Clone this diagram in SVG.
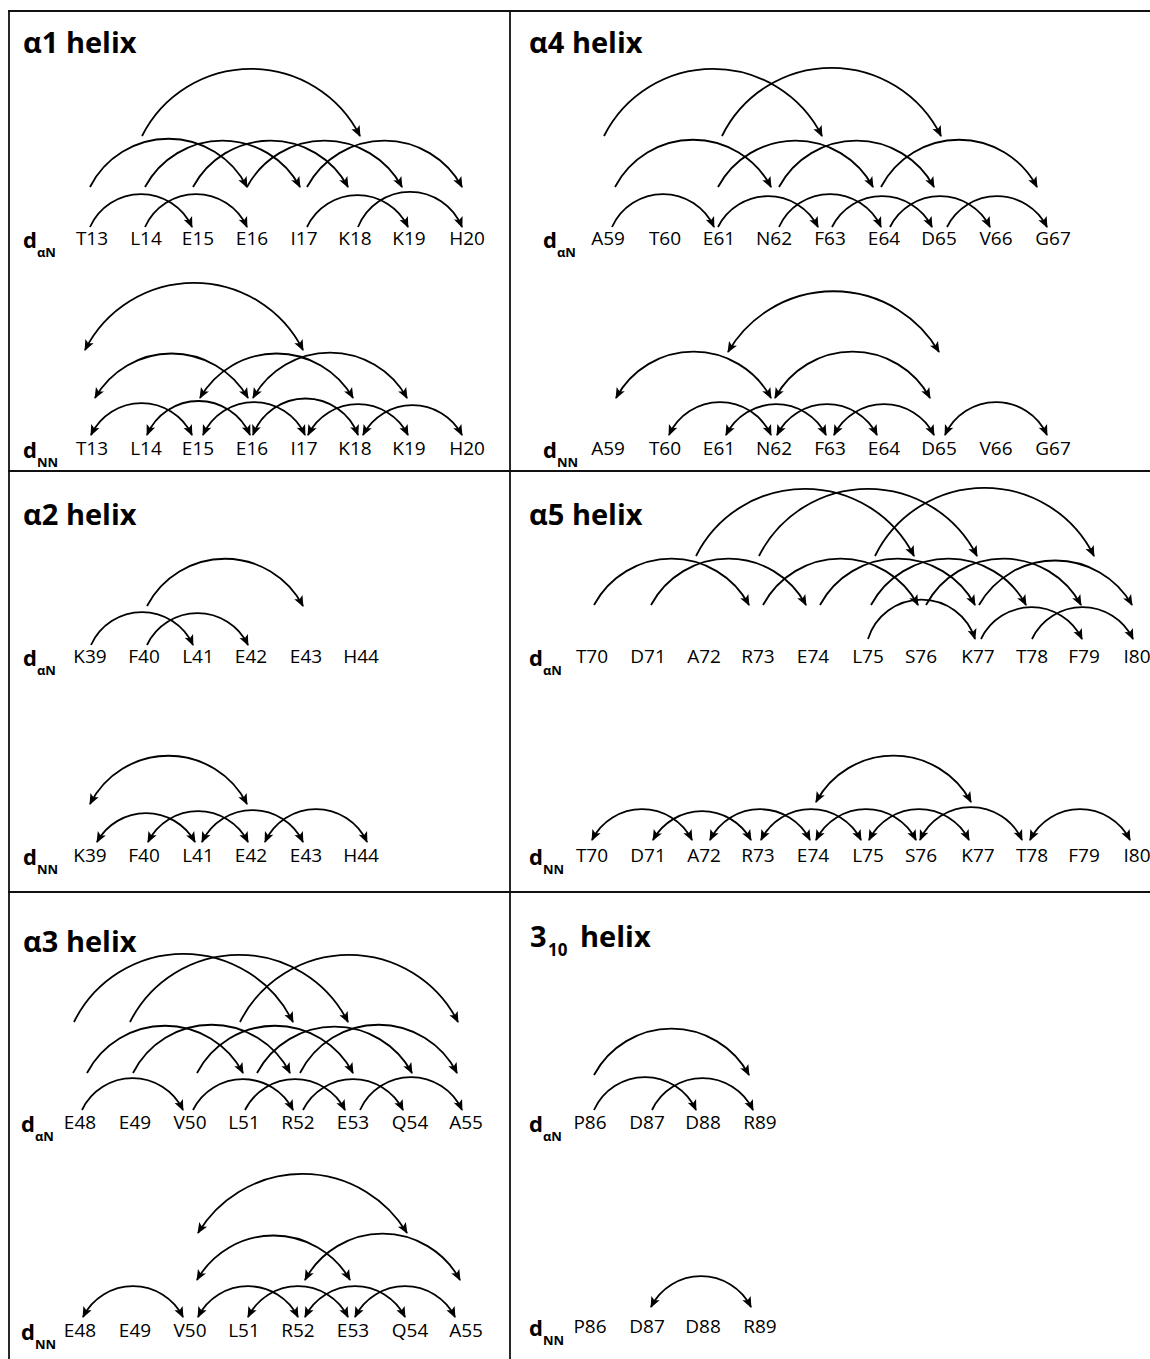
<svg xmlns="http://www.w3.org/2000/svg" width="1150" height="1359" viewBox="0 0 1150 1359">
<style>
.frame{stroke:#111;stroke-width:1.8;fill:none}
.title{font-family:"Open Sans","Liberation Sans",Arial,sans-serif;font-weight:bold;font-size:29px;fill:#000}
.tsub{font-size:17px}
.d{font-family:"Open Sans","Liberation Sans",Arial,sans-serif;font-weight:bold;font-size:22px;fill:#000}
.sub{font-size:13px}
.res{font-family:"Open Sans","Liberation Sans",Arial,sans-serif;font-size:19px;fill:#000;text-anchor:middle}
.an{fill:none;stroke:#000;stroke-width:1.8;marker-end:url(#ah)}
.nn{fill:none;stroke:#000;stroke-width:1.8;marker-start:url(#ah);marker-end:url(#ah)}
</style>
<defs>
<marker id="ah" viewBox="-12 -6 13 12" refX="0" refY="0" markerWidth="13" markerHeight="12" markerUnits="userSpaceOnUse" orient="auto-start-reverse">
<path d="M1,0 L-10,-4.6 L-7.5,0 L-10,4.6 Z" fill="#000"/>
</marker>
</defs>
<rect width="1150" height="1359" fill="#fff"/>
<g id="frame">
<line class="frame" x1="8" y1="11" x2="1150" y2="11"/>
<line class="frame" x1="9" y1="11" x2="9" y2="1359"/>
<line class="frame" x1="510" y1="11" x2="510" y2="1359"/>
<line class="frame" x1="8" y1="471" x2="1150" y2="471"/>
<line class="frame" x1="8" y1="892" x2="1150" y2="892"/>
</g>
<g id="titles">
<text class="title" x="23" y="53">α1 helix</text>
<text class="title" x="529" y="53">α4 helix</text>
<text class="title" x="23" y="525">α2 helix</text>
<text class="title" x="529" y="525">α5 helix</text>
<text class="title" x="23" y="952">α3 helix</text>
<text class="title" x="530" y="947">3<tspan class="tsub" x="548" dy="9">10</tspan><tspan x="580" dy="-9">helix</tspan></text>
</g>
<g id="row-labels">
<text class="d" x="23" y="248">d<tspan class="sub" dy="9">αN</tspan></text>
<text class="d" x="23" y="458">d<tspan class="sub" dy="9">NN</tspan></text>
<text class="d" x="543" y="248">d<tspan class="sub" dy="9">αN</tspan></text>
<text class="d" x="543" y="458">d<tspan class="sub" dy="9">NN</tspan></text>
<text class="d" x="23" y="666">d<tspan class="sub" dy="9">αN</tspan></text>
<text class="d" x="23" y="865">d<tspan class="sub" dy="9">NN</tspan></text>
<text class="d" x="529" y="666">d<tspan class="sub" dy="9">αN</tspan></text>
<text class="d" x="529" y="865">d<tspan class="sub" dy="9">NN</tspan></text>
<text class="d" x="21" y="1132">d<tspan class="sub" dy="9">αN</tspan></text>
<text class="d" x="21" y="1340">d<tspan class="sub" dy="9">NN</tspan></text>
<text class="d" x="529" y="1132">d<tspan class="sub" dy="9">αN</tspan></text>
<text class="d" x="529" y="1336">d<tspan class="sub" dy="9">NN</tspan></text>
</g>
<g id="nodes">
<g id="a1-an-T13"><text class="res" x="92" y="245">T13</text></g>
<g id="a1-an-L14"><text class="res" x="146" y="245">L14</text></g>
<g id="a1-an-E15"><text class="res" x="198" y="245">E15</text></g>
<g id="a1-an-E16"><text class="res" x="252" y="245">E16</text></g>
<g id="a1-an-I17"><text class="res" x="304" y="245">I17</text></g>
<g id="a1-an-K18"><text class="res" x="355" y="245">K18</text></g>
<g id="a1-an-K19"><text class="res" x="409" y="245">K19</text></g>
<g id="a1-an-H20"><text class="res" x="467" y="245">H20</text></g>
<g id="a1-nn-T13"><text class="res" x="92" y="455">T13</text></g>
<g id="a1-nn-L14"><text class="res" x="146" y="455">L14</text></g>
<g id="a1-nn-E15"><text class="res" x="198" y="455">E15</text></g>
<g id="a1-nn-E16"><text class="res" x="252" y="455">E16</text></g>
<g id="a1-nn-I17"><text class="res" x="304" y="455">I17</text></g>
<g id="a1-nn-K18"><text class="res" x="355" y="455">K18</text></g>
<g id="a1-nn-K19"><text class="res" x="409" y="455">K19</text></g>
<g id="a1-nn-H20"><text class="res" x="467" y="455">H20</text></g>
<g id="a4-an-A59"><text class="res" x="608" y="245">A59</text></g>
<g id="a4-an-T60"><text class="res" x="665" y="245">T60</text></g>
<g id="a4-an-E61"><text class="res" x="719" y="245">E61</text></g>
<g id="a4-an-N62"><text class="res" x="774" y="245">N62</text></g>
<g id="a4-an-F63"><text class="res" x="830" y="245">F63</text></g>
<g id="a4-an-E64"><text class="res" x="884" y="245">E64</text></g>
<g id="a4-an-D65"><text class="res" x="939" y="245">D65</text></g>
<g id="a4-an-V66"><text class="res" x="996" y="245">V66</text></g>
<g id="a4-an-G67"><text class="res" x="1053" y="245">G67</text></g>
<g id="a4-nn-A59"><text class="res" x="608" y="455">A59</text></g>
<g id="a4-nn-T60"><text class="res" x="665" y="455">T60</text></g>
<g id="a4-nn-E61"><text class="res" x="719" y="455">E61</text></g>
<g id="a4-nn-N62"><text class="res" x="774" y="455">N62</text></g>
<g id="a4-nn-F63"><text class="res" x="830" y="455">F63</text></g>
<g id="a4-nn-E64"><text class="res" x="884" y="455">E64</text></g>
<g id="a4-nn-D65"><text class="res" x="939" y="455">D65</text></g>
<g id="a4-nn-V66"><text class="res" x="996" y="455">V66</text></g>
<g id="a4-nn-G67"><text class="res" x="1053" y="455">G67</text></g>
<g id="a2-an-K39"><text class="res" x="90" y="663">K39</text></g>
<g id="a2-an-F40"><text class="res" x="144" y="663">F40</text></g>
<g id="a2-an-L41"><text class="res" x="198" y="663">L41</text></g>
<g id="a2-an-E42"><text class="res" x="251" y="663">E42</text></g>
<g id="a2-an-E43"><text class="res" x="306" y="663">E43</text></g>
<g id="a2-an-H44"><text class="res" x="361" y="663">H44</text></g>
<g id="a2-nn-K39"><text class="res" x="90" y="862">K39</text></g>
<g id="a2-nn-F40"><text class="res" x="144" y="862">F40</text></g>
<g id="a2-nn-L41"><text class="res" x="198" y="862">L41</text></g>
<g id="a2-nn-E42"><text class="res" x="251" y="862">E42</text></g>
<g id="a2-nn-E43"><text class="res" x="306" y="862">E43</text></g>
<g id="a2-nn-H44"><text class="res" x="361" y="862">H44</text></g>
<g id="a5-an-T70"><text class="res" x="592" y="663">T70</text></g>
<g id="a5-an-D71"><text class="res" x="648" y="663">D71</text></g>
<g id="a5-an-A72"><text class="res" x="704" y="663">A72</text></g>
<g id="a5-an-R73"><text class="res" x="758" y="663">R73</text></g>
<g id="a5-an-E74"><text class="res" x="813" y="663">E74</text></g>
<g id="a5-an-L75"><text class="res" x="868" y="663">L75</text></g>
<g id="a5-an-S76"><text class="res" x="921" y="663">S76</text></g>
<g id="a5-an-K77"><text class="res" x="978" y="663">K77</text></g>
<g id="a5-an-T78"><text class="res" x="1032" y="663">T78</text></g>
<g id="a5-an-F79"><text class="res" x="1084" y="663">F79</text></g>
<g id="a5-an-I80"><text class="res" x="1137" y="663">I80</text></g>
<g id="a5-nn-T70"><text class="res" x="592" y="862">T70</text></g>
<g id="a5-nn-D71"><text class="res" x="648" y="862">D71</text></g>
<g id="a5-nn-A72"><text class="res" x="704" y="862">A72</text></g>
<g id="a5-nn-R73"><text class="res" x="758" y="862">R73</text></g>
<g id="a5-nn-E74"><text class="res" x="813" y="862">E74</text></g>
<g id="a5-nn-L75"><text class="res" x="868" y="862">L75</text></g>
<g id="a5-nn-S76"><text class="res" x="921" y="862">S76</text></g>
<g id="a5-nn-K77"><text class="res" x="978" y="862">K77</text></g>
<g id="a5-nn-T78"><text class="res" x="1032" y="862">T78</text></g>
<g id="a5-nn-F79"><text class="res" x="1084" y="862">F79</text></g>
<g id="a5-nn-I80"><text class="res" x="1137" y="862">I80</text></g>
<g id="a3-an-E48"><text class="res" x="80" y="1129">E48</text></g>
<g id="a3-an-E49"><text class="res" x="135" y="1129">E49</text></g>
<g id="a3-an-V50"><text class="res" x="190" y="1129">V50</text></g>
<g id="a3-an-L51"><text class="res" x="244" y="1129">L51</text></g>
<g id="a3-an-R52"><text class="res" x="298" y="1129">R52</text></g>
<g id="a3-an-E53"><text class="res" x="353" y="1129">E53</text></g>
<g id="a3-an-Q54"><text class="res" x="410" y="1129">Q54</text></g>
<g id="a3-an-A55"><text class="res" x="466" y="1129">A55</text></g>
<g id="a3-nn-E48"><text class="res" x="80" y="1337">E48</text></g>
<g id="a3-nn-E49"><text class="res" x="135" y="1337">E49</text></g>
<g id="a3-nn-V50"><text class="res" x="190" y="1337">V50</text></g>
<g id="a3-nn-L51"><text class="res" x="244" y="1337">L51</text></g>
<g id="a3-nn-R52"><text class="res" x="298" y="1337">R52</text></g>
<g id="a3-nn-E53"><text class="res" x="353" y="1337">E53</text></g>
<g id="a3-nn-Q54"><text class="res" x="410" y="1337">Q54</text></g>
<g id="a3-nn-A55"><text class="res" x="466" y="1337">A55</text></g>
<g id="h310-an-P86"><text class="res" x="590" y="1129">P86</text></g>
<g id="h310-an-D87"><text class="res" x="647" y="1129">D87</text></g>
<g id="h310-an-D88"><text class="res" x="703" y="1129">D88</text></g>
<g id="h310-an-R89"><text class="res" x="760" y="1129">R89</text></g>
<g id="h310-nn-P86"><text class="res" x="590" y="1333">P86</text></g>
<g id="h310-nn-D87"><text class="res" x="647" y="1333">D87</text></g>
<g id="h310-nn-D88"><text class="res" x="703" y="1333">D88</text></g>
<g id="h310-nn-R89"><text class="res" x="760" y="1333">R89</text></g>
</g>
<g id="connectors">
<g id="a1-an-arcs">
<path class="an" d="M90 227 A56 56 0 0 1 192 227"/>
<path class="an" d="M145 227 A56 56 0 0 1 247 227"/>
<path class="an" d="M307 227 A56 56 0 0 1 408 227"/>
<path class="an" d="M358 227 A56 56 0 0 1 462 227"/>
<path class="an" d="M90 187 A88 88 0 0 1 247 187"/>
<path class="an" d="M145 187 A88 88 0 0 1 300 187"/>
<path class="an" d="M193 187 A88 88 0 0 1 348 187"/>
<path class="an" d="M247 187 A88 88 0 0 1 402 187"/>
<path class="an" d="M307 187 A88 88 0 0 1 462 187"/>
<path class="an" d="M142 136 A122 122 0 0 1 360 136"/>
</g>
<g id="a1-nn-arcs">
<path class="nn" d="M91 435 A56 56 0 0 1 192 435"/>
<path class="nn" d="M147 435 A56 56 0 0 1 250 435"/>
<path class="nn" d="M203 435 A56 56 0 0 1 305 435"/>
<path class="nn" d="M253 435 A56 56 0 0 1 358 435"/>
<path class="nn" d="M308 435 A56 56 0 0 1 408 435"/>
<path class="nn" d="M363 435 A56 56 0 0 1 462 435"/>
<path class="nn" d="M95 398 A88 88 0 0 1 248 398"/>
<path class="nn" d="M200 398 A88 88 0 0 1 353 398"/>
<path class="nn" d="M253 398 A88 88 0 0 1 407 398"/>
<path class="nn" d="M85 350 A122 122 0 0 1 303 350"/>
</g>
<g id="a4-an-arcs">
<path class="an" d="M612 227 A56 56 0 0 1 714 227"/>
<path class="an" d="M718 227 A56 56 0 0 1 818 227"/>
<path class="an" d="M779 227 A56 56 0 0 1 881 227"/>
<path class="an" d="M832 227 A56 56 0 0 1 932 227"/>
<path class="an" d="M890 227 A56 56 0 0 1 990 227"/>
<path class="an" d="M947 227 A56 56 0 0 1 1047 227"/>
<path class="an" d="M615 187 A88 88 0 0 1 771 187"/>
<path class="an" d="M718 187 A88 88 0 0 1 873 187"/>
<path class="an" d="M779 187 A88 88 0 0 1 934 187"/>
<path class="an" d="M881 187 A88 88 0 0 1 1037 187"/>
<path class="an" d="M604 136 A122 122 0 0 1 822 136"/>
<path class="an" d="M722 136 A122 122 0 0 1 941 136"/>
</g>
<g id="a4-nn-arcs">
<path class="nn" d="M669 435 A56 56 0 0 1 771 435"/>
<path class="nn" d="M726 435 A56 56 0 0 1 826 435"/>
<path class="nn" d="M777 435 A56 56 0 0 1 877 435"/>
<path class="nn" d="M834 435 A56 56 0 0 1 934 435"/>
<path class="nn" d="M945 435 A56 56 0 0 1 1047 435"/>
<path class="nn" d="M616 398 A88 88 0 0 1 771 398"/>
<path class="nn" d="M775 398 A88 88 0 0 1 930 398"/>
<path class="nn" d="M728 352 A122 122 0 0 1 939 352"/>
</g>
<g id="a2-an-arcs">
<path class="an" d="M91 645 A56 56 0 0 1 193 645"/>
<path class="an" d="M147 645 A56 56 0 0 1 248 645"/>
<path class="an" d="M147 606 A88 88 0 0 1 303 606"/>
</g>
<g id="a2-nn-arcs">
<path class="nn" d="M97 842 A56 56 0 0 1 195 842"/>
<path class="nn" d="M148 842 A56 56 0 0 1 248 842"/>
<path class="nn" d="M202 842 A56 56 0 0 1 303 842"/>
<path class="nn" d="M265 842 A56 56 0 0 1 367 842"/>
<path class="nn" d="M90 804 A88 88 0 0 1 247 804"/>
</g>
<g id="a5-an-arcs">
<path class="an" d="M868 639 A56 56 0 0 1 975 639"/>
<path class="an" d="M981 639 A56 56 0 0 1 1082 639"/>
<path class="an" d="M1032 639 A56 56 0 0 1 1133 639"/>
<path class="an" d="M594 605 A88 88 0 0 1 749 605"/>
<path class="an" d="M651 605 A88 88 0 0 1 806 605"/>
<path class="an" d="M763 605 A88 88 0 0 1 918 605"/>
<path class="an" d="M820 605 A88 88 0 0 1 975 605"/>
<path class="an" d="M871 605 A88 88 0 0 1 1026 605"/>
<path class="an" d="M926 605 A88 88 0 0 1 1081 605"/>
<path class="an" d="M979 605 A88 88 0 0 1 1132 605"/>
<path class="an" d="M696 556 A122 122 0 0 1 914 556"/>
<path class="an" d="M759 556 A122 122 0 0 1 977 556"/>
<path class="an" d="M875 556 A122 122 0 0 1 1094 556"/>
</g>
<g id="a5-nn-arcs">
<path class="nn" d="M592 840 A56 56 0 0 1 692 840"/>
<path class="nn" d="M653 840 A56 56 0 0 1 751 840"/>
<path class="nn" d="M710 840 A56 56 0 0 1 810 840"/>
<path class="nn" d="M761 840 A56 56 0 0 1 861 840"/>
<path class="nn" d="M816 840 A56 56 0 0 1 916 840"/>
<path class="nn" d="M869 840 A56 56 0 0 1 969 840"/>
<path class="nn" d="M920 840 A56 56 0 0 1 1022 840"/>
<path class="nn" d="M1030 840 A56 56 0 0 1 1130 840"/>
<path class="nn" d="M816 802 A88 88 0 0 1 971 802"/>
</g>
<g id="a3-an-arcs">
<path class="an" d="M82 1110 A56 56 0 0 1 183 1110"/>
<path class="an" d="M193 1110 A56 56 0 0 1 293 1110"/>
<path class="an" d="M245 1110 A56 56 0 0 1 345 1110"/>
<path class="an" d="M303 1110 A56 56 0 0 1 403 1110"/>
<path class="an" d="M360 1110 A56 56 0 0 1 462 1110"/>
<path class="an" d="M87 1073 A88 88 0 0 1 243 1073"/>
<path class="an" d="M133 1073 A88 88 0 0 1 290 1073"/>
<path class="an" d="M197 1073 A88 88 0 0 1 353 1073"/>
<path class="an" d="M257 1073 A88 88 0 0 1 412 1073"/>
<path class="an" d="M300 1073 A88 88 0 0 1 457 1073"/>
<path class="an" d="M74 1022 A122 122 0 0 1 293 1022"/>
<path class="an" d="M130 1022 A122 122 0 0 1 348 1022"/>
<path class="an" d="M240 1022 A122 122 0 0 1 458 1022"/>
</g>
<g id="a3-nn-arcs">
<path class="nn" d="M83 1317 A56 56 0 0 1 183 1317"/>
<path class="nn" d="M198 1317 A56 56 0 0 1 298 1317"/>
<path class="nn" d="M248 1317 A56 56 0 0 1 348 1317"/>
<path class="nn" d="M305 1317 A56 56 0 0 1 405 1317"/>
<path class="nn" d="M355 1317 A56 56 0 0 1 455 1317"/>
<path class="nn" d="M197 1280 A88 88 0 0 1 350 1280"/>
<path class="nn" d="M305 1280 A88 88 0 0 1 460 1280"/>
<path class="nn" d="M198 1233 A122 122 0 0 1 407 1233"/>
</g>
<g id="h310-an-arcs">
<path class="an" d="M594 1110 A56 56 0 0 1 696 1110"/>
<path class="an" d="M652 1110 A56 56 0 0 1 753 1110"/>
<path class="an" d="M594 1075 A88 88 0 0 1 749 1075"/>
</g>
<g id="h310-nn-arcs">
<path class="nn" d="M651 1307 A56 56 0 0 1 751 1307"/>
</g>
</g>
</svg>
